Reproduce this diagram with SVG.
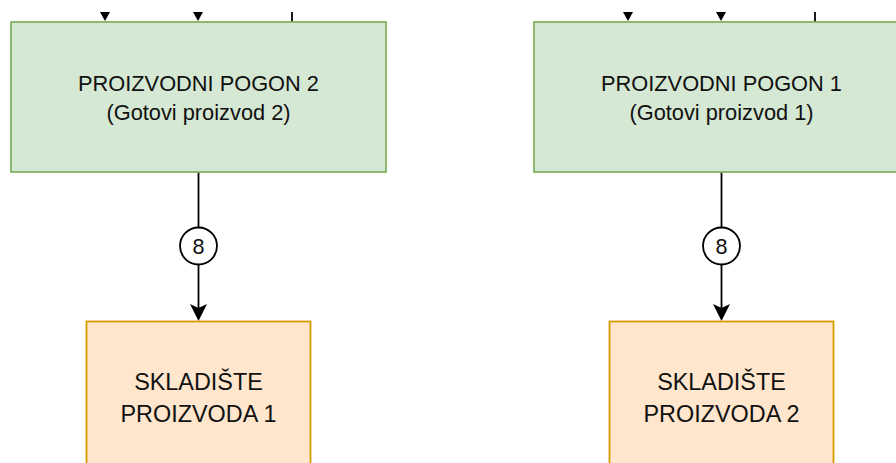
<svg xmlns="http://www.w3.org/2000/svg" width="896" height="463" viewBox="0 0 896 463">
<style>
.g{fill:#d5e8d4;stroke:#82b366;stroke-width:1.8}
.o{fill:#ffe6cc;stroke:#d79b00;stroke-width:1.8}
.t{font-family:"Liberation Sans",Arial,sans-serif;fill:#111;text-anchor:middle}
.l{stroke:#000;stroke-width:1.8;fill:none}
.c{fill:#fff;stroke:#000;stroke-width:1.8}
.h{fill:#000;stroke:none}
</style>
<rect width="896" height="463" fill="#fff"/>
<g id="conn">
  <polygon class="h" points="100,12 110,12 105,21"/>
  <polygon class="h" points="193,12 203,12 198,21"/>
  <line class="l" x1="292" y1="12" x2="292" y2="22"/>
  <polygon class="h" points="623,12 633,12 628,21"/>
  <polygon class="h" points="716,12 726,12 721,21"/>
  <line class="l" x1="815" y1="12" x2="815" y2="22"/>
  <line class="l" x1="198.5" y1="172" x2="198.5" y2="227.5"/>
  <line class="l" x1="198.5" y1="264.5" x2="198.5" y2="310"/>
  <polygon class="h" points="198.5,321 190,304 198.5,308 207,304"/>
  <line class="l" x1="721.5" y1="172" x2="721.5" y2="227.5"/>
  <line class="l" x1="721.5" y1="264.5" x2="721.5" y2="310"/>
  <polygon class="h" points="721.5,321 713,304 721.5,308 730,304"/>
  <g id="lbl8a"><circle class="c" cx="198.5" cy="246" r="18.5"/><text class="t" x="198.5" y="254" font-size="21.6">8</text></g>
  <g id="lbl8b"><circle class="c" cx="721.5" cy="246" r="18.5"/><text class="t" x="721.5" y="254" font-size="21.6">8</text></g>
</g>
<g id="pogon2">
  <rect class="g" x="11" y="22" width="375" height="150"/>
  <text class="t" x="198.5" y="91" font-size="21.8">PROIZVODNI POGON 2</text>
  <text class="t" x="198.5" y="119.5" font-size="21.8">(Gotovi proizvod 2)</text>
</g>
<g id="pogon1">
  <rect class="g" x="534" y="22" width="375" height="150"/>
  <text class="t" x="721.5" y="91" font-size="21.8">PROIZVODNI POGON 1</text>
  <text class="t" x="721.5" y="119.5" font-size="21.8">(Gotovi proizvod 1)</text>
</g>
<g id="skladiste1">
  <rect class="o" x="86.5" y="321.5" width="224" height="160"/>
  <text class="t" x="198.5" y="389.5" font-size="23.4">SKLADIŠTE</text>
  <text class="t" x="198.5" y="421.5" font-size="23.4">PROIZVODA 1</text>
</g>
<g id="skladiste2">
  <rect class="o" x="609.5" y="321.5" width="224" height="160"/>
  <text class="t" x="721.5" y="389.5" font-size="23.4">SKLADIŠTE</text>
  <text class="t" x="721.5" y="421.5" font-size="23.4">PROIZVODA 2</text>
</g>
</svg>
